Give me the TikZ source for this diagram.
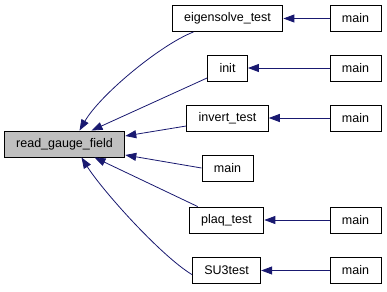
\documentclass[tikz,border=0pt]{standalone}
\usepackage{fontspec}
\setmainfont{Liberation Sans}
\definecolor{callblue}{RGB}{25, 25, 112}
\definecolor{focusgray}{RGB}{191, 191, 191}
\usetikzlibrary{arrows.meta}

\begin{document}
\begin{tikzpicture}[
    x=1pt, y=-1pt,
    box/.style={rectangle, draw=black, line width=0.9pt, fill=white,
                minimum height=26pt, inner xsep=12pt, inner ysep=0pt,
                font=\fontsize{12.5}{14}\selectfont, text=black},
    edge/.style={{Triangle[length=11pt, width=8pt]}-, line width=0.8pt,
                 draw=callblue}
  ]
    \useasboundingbox (0,0) rectangle (387,291);

    % Function itself
    \node[box, fill=focusgray] (rgf) at (64.5,144) {read\_gauge\_field};
    % Direct callers
    \node[box] (eigen) at (227.5,18.5) {eigensolve\_test};
    \node[box] (init) at (227.5,68) {init};
    \node[box] (invert) at (227.5,118) {invert\_test};
    \node[box] (mainmid) at (227.5,168) {main};
    \node[box] (plaq) at (226.5,220) {plaq\_test};
    \node[box] (su3) at (226.5,270.5) {SU3test};
    % Callers of the callers
    \node[box] (meigen) at (355.5,18.5) {main};
    \node[box] (minit) at (355.5,68) {main};
    \node[box] (minvert) at (355.5,118) {main};
    \node[box] (mplaq) at (355.5,220) {main};
    \node[box] (msu3) at (355.5,270.5) {main};

    % Arrows into read_gauge_field
    \draw[edge] ([xshift=15pt]rgf.north) .. controls (100,95) and (160,45) .. ([xshift=-34pt]eigen.south);
    \draw[edge] ([xshift=27pt]rgf.north) -- ([yshift=-10pt]init.west);
    \draw[edge] ([yshift=8pt]rgf.east) -- ([yshift=-8pt]invert.west);
    \draw[edge] ([yshift=-11pt]rgf.east) -- (mainmid.west);
    \draw[edge] ([xshift=30pt]rgf.south) -- ([xshift=9pt]plaq.north west);
    \draw[edge] ([xshift=17pt]rgf.south) .. controls (102,190) and (160,255) .. ([yshift=-4pt]su3.west);

    % Arrows into the direct callers
    \draw[edge] (eigen) -- (meigen);
    \draw[edge] (init) -- (minit);
    \draw[edge] (invert) -- (minvert);
    \draw[edge] (plaq) -- (mplaq);
    \draw[edge] (su3) -- (msu3);
  \end{tikzpicture}
\end{document}
